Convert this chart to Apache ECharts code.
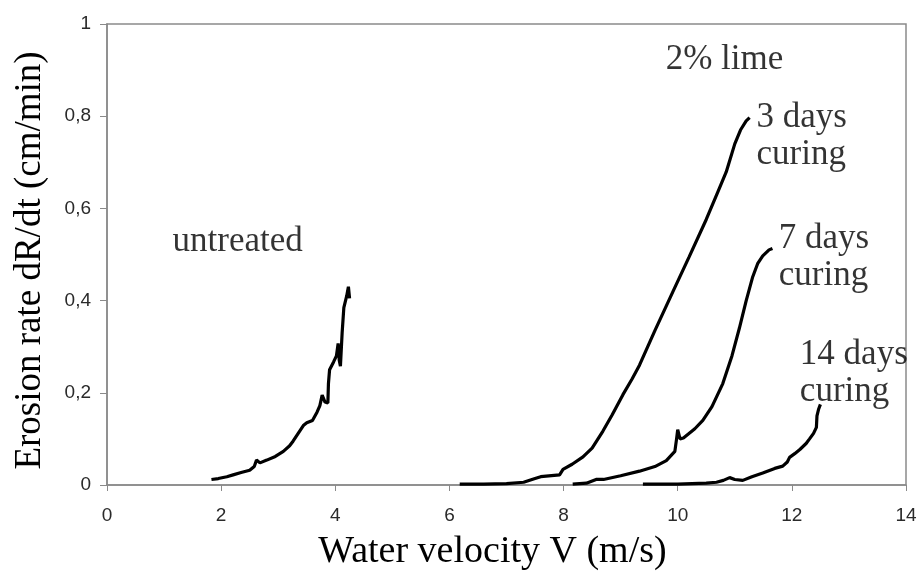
<!DOCTYPE html>
<html>
<head>
<meta charset="utf-8">
<script src="https://cdn.jsdelivr.net/npm/echarts@6/dist/echarts.min.js"></script>
<style>
html,body{margin:0;padding:0;background:#fff;}
#chart{width:921px;height:576px;}
</style>
</head>
<body>
<div id="chart"></div>
<script>
// ---- data (x = water velocity m/s, y = erosion rate cm/min) ----
const untreated = [[1.83,0.012],[1.95,0.014],[2.1,0.018],[2.21,0.022],[2.35,0.027],[2.5,0.032],[2.58,0.04],[2.62,0.054],[2.68,0.048],[2.8,0.054],[2.95,0.062],[3.09,0.073],[3.2,0.085],[3.26,0.095],[3.35,0.112],[3.44,0.129],[3.5,0.135],[3.6,0.14],[3.68,0.158],[3.73,0.172],[3.77,0.195],[3.82,0.18],[3.87,0.178],[3.88,0.22],[3.9,0.25],[3.97,0.267],[4.02,0.28],[4.05,0.307],[4.07,0.27],[4.09,0.258],[4.12,0.33],[4.15,0.385],[4.2,0.41],[4.23,0.43],[4.25,0.405]];
const lime3d = [[6.18,0.002],[6.6,0.002],[7.0,0.003],[7.3,0.006],[7.5,0.014],[7.6,0.018],[7.93,0.022],[7.99,0.034],[8.15,0.045],[8.34,0.061],[8.5,0.08],[8.69,0.117],[8.85,0.152],[9.04,0.196],[9.2,0.23],[9.33,0.26],[9.6,0.335],[9.91,0.418],[10.2,0.495],[10.5,0.576],[10.7,0.635],[10.85,0.679],[11.0,0.74],[11.1,0.77],[11.2,0.79],[11.26,0.797]];
const lime7d = [[8.16,0.002],[8.4,0.004],[8.57,0.012],[8.7,0.012],[9.0,0.02],[9.33,0.03],[9.6,0.04],[9.8,0.053],[9.95,0.073],[9.98,0.1],[10.0,0.12],[10.04,0.1],[10.1,0.102],[10.3,0.122],[10.44,0.14],[10.6,0.17],[10.79,0.22],[10.95,0.28],[11.08,0.34],[11.2,0.4],[11.31,0.45],[11.4,0.48],[11.49,0.497],[11.6,0.51],[11.66,0.513]];
const lime14d = [[9.39,0.002],[10.0,0.002],[10.5,0.004],[10.68,0.006],[10.8,0.01],[10.91,0.016],[11.0,0.012],[11.14,0.01],[11.3,0.018],[11.49,0.026],[11.7,0.036],[11.84,0.041],[11.92,0.05],[11.96,0.06],[12.05,0.068],[12.14,0.077],[12.25,0.09],[12.31,0.1],[12.38,0.112],[12.43,0.125],[12.44,0.15],[12.47,0.165],[12.5,0.175]];
const xTickLabels = ['0','2','4','6','8','10','12','14'];
const yTickLabels = ['0','0,2','0,4','0,6','0,8','1'];
const annotTexts = ['untreated','2% lime','3 days\ncuring','7 days\ncuring','14 days\ncuring'];
const annotX = [2.29, 10.82, 11.38, 11.77, 12.14];
const annotY = [0.528, 0.922, 0.756, 0.493, 0.243];
const annotAlign = ['center','center','left','left','left'];

const lineStyle = {color:'#000', width:3.2};
function curve(name, data){
  return {name, type:'line', data, showSymbol:false, symbol:'none', smooth:false,
          lineStyle, itemStyle:{color:'#000'}, silent:true, z:3};
}
const annotData = annotTexts.map((t,i)=>({
  value:[annotX[i], annotY[i]],
  label:{formatter:t, align:annotAlign[i]}
}));

const chart = echarts.init(document.getElementById('chart'));
chart.setOption({
  animation:false,
  backgroundColor:'#fff',
  grid:{left:107, right:15, top:24, bottom:88, show:true, borderColor:'#8a8a8a', borderWidth:1.5, containLabel:false},
  xAxis:{
    type:'value', min:0, max:14, interval:2,
    axisLine:{show:true, lineStyle:{color:'#8a8a8a', width:1.5}},
    axisTick:{show:true, length:6, lineStyle:{color:'#8a8a8a'}},
    splitLine:{show:false},
    axisLabel:{margin:21, fontFamily:'Liberation Sans', fontSize:19, color:'#2a2a2a',
      formatter:(v)=>xTickLabels[Math.round(v/2)]},
    name:'Water velocity V (m/s)', nameLocation:'middle', nameGap:48,
    nameTextStyle:{fontFamily:'Liberation Serif', fontSize:38, color:'#000', padding:[0,28,0,0]}
  },
  yAxis:{
    type:'value', min:0, max:1, interval:0.2,
    axisLine:{show:true, lineStyle:{color:'#8a8a8a', width:1.5}},
    axisTick:{show:true, length:7, lineStyle:{color:'#8a8a8a'}},
    splitLine:{show:false},
    axisLabel:{margin:16, fontFamily:'Liberation Sans', fontSize:19, color:'#2a2a2a',
      formatter:(v)=>yTickLabels[Math.round(v/0.2)]},
    name:'Erosion rate dR/dt (cm/min)', nameLocation:'middle', nameGap:58,
    nameTextStyle:{fontFamily:'Liberation Serif', fontSize:37, color:'#000', padding:[0,12,0,0]}
  },
  series:[
    curve('untreated', untreated),
    curve('3 days curing', lime3d),
    curve('7 days curing', lime7d),
    curve('14 days curing', lime14d),
    {type:'scatter', data:annotData, symbolSize:0, silent:true, z:5,
     label:{show:true, position:'inside', fontFamily:'Liberation Serif', fontSize:35,
            lineHeight:37, color:'#000', verticalAlign:'middle'}}
  ]
});
</script>
</body>
</html>
